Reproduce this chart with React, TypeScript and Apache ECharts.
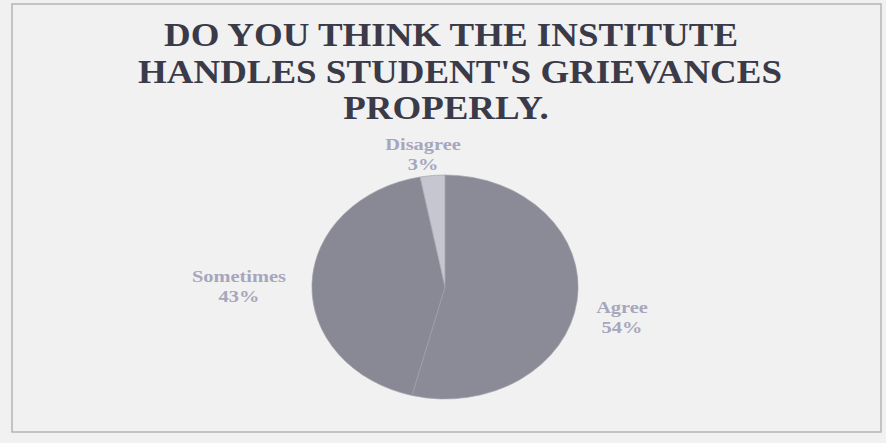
import React, { useEffect, useRef } from "react";
import * as echarts from "echarts";

const titleLines = ["DO YOU THINK THE INSTITUTE", "HANDLES STUDENT'S GRIEVANCES", "PROPERLY."];
const categories = ["Agree", "Sometimes", "Disagree"];
const values = [54, 43, 3];
const sliceColors = ["#8b8b97", "#898995", "#c6c6d0"];

export default function App() {
  const ref = useRef<HTMLDivElement>(null);
  useEffect(() => {
    document.body.style.margin = "0";
    const chart = echarts.init(ref.current!, null, { renderer: "svg" });
    const total = values.reduce((a, b) => a + b, 0);
    const cx = 445;
    const cy = 287;
    const ry = 112;
    const stretch = 133 / 112;

    const titleX = [451, 460, 446];
    const titleY = [35, 72, 108];
    const labelX = [622, 239, 423];
    const labelY = [297, 266, 134];

    const graphics: any[] = [
      {
        type: "rect",
        shape: { x: 12, y: 4, width: 869, height: 428 },
        style: { fill: "none", stroke: "#b4b4b4", lineWidth: 1.5 },
        silent: true,
      },
    ];
    titleLines.forEach((t, i) => {
      graphics.push({
        type: "text",
        x: titleX[i],
        y: titleY[i],
        scaleX: 1.12,
        style: {
          text: t,
          font: "bold 33px 'Liberation Serif'",
          fill: "#3a3a48",
          align: "center",
          verticalAlign: "middle",
        },
      });
    });
    categories.forEach((c, i) => {
      const pct = Math.round((values[i] / total) * 100);
      graphics.push({
        type: "text",
        x: labelX[i],
        y: labelY[i],
        scaleX: 1.2,
        style: {
          text: `${c}\n${pct}%`,
          font: "bold 17px 'Liberation Serif'",
          lineHeight: 20,
          fill: "#a6a6bc",
          align: "center",
          verticalAlign: "top",
        },
      });
    });

    chart.setOption({
      animation: false,
      backgroundColor: "#f1f1f1",
      graphic: graphics,
      series: [
        {
          type: "custom",
          coordinateSystem: "none",
          data: values.map((v, i) => ({ name: categories[i], value: v })),
          renderItem: (params: any, api: any) => {
            const i = params.dataIndex;
            let before = 0;
            for (let k = 0; k < i; k++) before += values[k];
            const v = api.value(0);
            const start = -Math.PI / 2 + (before / total) * Math.PI * 2;
            const end = start + (v / total) * Math.PI * 2;
            return {
              type: "sector",
              x: cx,
              y: cy,
              scaleX: stretch,
              scaleY: 1,
              shape: { cx: 0, cy: 0, r0: 0, r: ry, startAngle: start, endAngle: end, clockwise: true },
              style: { fill: sliceColors[i], stroke: "#a0a0ac", lineWidth: 0.6 },
            };
          },
        },
      ],
    });
    return () => chart.dispose();
  }, []);
  return <div ref={ref} style={{ width: 886, height: 443 }} />;
}
